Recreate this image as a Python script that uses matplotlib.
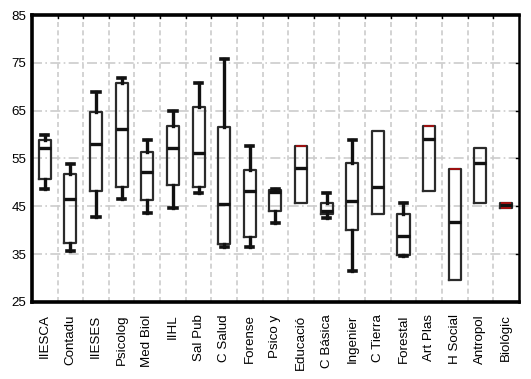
import matplotlib
matplotlib.use("Agg")
import matplotlib.pyplot as plt

plt.rcParams['font.family'] = ['Liberation Sans', 'DejaVu Sans']

# datos
carreras = ['IIESCA', 'Contadu', 'IIESES', 'Psicolog', 'Med Biol', 'IIHL', 'Sal Pub',
            'C Salud', 'Forense', 'Psico y', 'Educació', 'C Básica', 'Ingenier',
            'C Tierra', 'Forestal', 'Art Plas', 'H Social', 'Antropol', 'Biológic']
bigote_inf = [48.7, 35.7, 42.7, 46.6, 43.7, 44.6, 47.7, 36.5, 36.5, 41.6, 45.7, 42.5, 31.5,
              43.4, 34.7, 48.3, 29.6, 45.7, 44.6]
q1 = [50.7, 37.3, 48.3, 49.0, 46.3, 49.4, 49.0, 37.1, 38.6, 44.1, 45.7, 43.4, 40.0,
      43.4, 34.8, 48.3, 29.6, 45.7, 44.6]
mediana = [57.1, 46.6, 58.1, 61.1, 52.2, 57.2, 56.1, 45.4, 48.3, 48.0, 53.1, 44.1, 46.1,
           49.0, 38.8, 59.1, 41.8, 54.0, 45.2]
q3 = [58.8, 51.7, 64.8, 70.8, 56.4, 61.8, 65.8, 61.6, 52.6, 48.4, 57.7, 45.7, 54.1,
      60.8, 43.4, 61.8, 52.8, 57.1, 45.7]
bigote_sup = [59.9, 53.8, 69.0, 71.8, 58.8, 64.9, 70.8, 75.9, 57.7, 48.7, 57.7, 47.8, 58.8,
              60.8, 45.7, 61.8, 52.8, 57.1, 45.7]
# marcas rojas (carrera, valor)
rojo_idx = [10, 15, 16, 18, 18]
rojo_val = [57.7, 61.8, 52.8, 45.7, 44.6]

stats = []
for i in range(len(carreras)):
    stats.append({'whislo': bigote_inf[i], 'q1': q1[i], 'med': mediana[i],
                  'q3': q3[i], 'whishi': bigote_sup[i], 'label': carreras[i]})

fig = plt.figure(figsize=(5.31, 3.79), dpi=100)
ax = fig.add_axes([0.0603, 0.2032, 0.9167, 0.7572])

pos = list(range(1, len(carreras) + 1))
bp = ax.bxp(stats, positions=pos, widths=0.47, showfliers=False,
            boxprops=dict(color='#2b2b2b', linewidth=1.6),
            medianprops=dict(color='#111111', linewidth=2.4),
            whiskerprops=dict(color='#111111', linewidth=2.4),
            capprops=dict(color='#111111', linewidth=2.6), capwidths=0.28)

# quitar bigotes de longitud cero
for i in range(len(carreras)):
    for k in (2 * i, 2 * i + 1):
        y = bp['whiskers'][k].get_ydata()
        if abs(y[1] - y[0]) < 0.05:
            bp['whiskers'][k].set_visible(False)
            bp['caps'][k].set_visible(False)

for i, v in zip(rojo_idx, rojo_val):
    ax.hlines(v, pos[i] - 0.2, pos[i] + 0.2, color='#a01010', linewidth=1.4, zorder=5)

ax.set_xlim(0.5, len(carreras) + 0.5)
ax.set_ylim(25, 85)
ax.set_yticks([25, 35, 45, 55, 65, 75, 85])
ax.set_xticks(pos)
ax.set_xticklabels(carreras, rotation=90, fontsize=9.6)
ax.tick_params(axis='y', labelsize=9.6, length=0, pad=4)
ax.tick_params(axis='x', length=0, pad=9)

# rejilla
for y in [35, 45, 55, 65, 75]:
    ax.axhline(y, color='#cccccc', linewidth=1.2, linestyle=(0, (6, 2, 1, 2)), zorder=0)
for x in range(1, len(carreras)):
    ax.axvline(x + 0.5, color='#cccccc', linewidth=1.2, linestyle=(0, (3, 2)), zorder=0)
    ax.plot([x + 0.5, x + 0.5], [85, 84.4], color='black', linewidth=1, zorder=6)
for y in [35, 45, 55, 65, 75]:
    ax.plot([len(carreras) + 0.5, len(carreras) + 0.38], [y, y], color='black', linewidth=1, zorder=6)

for s in ['left', 'bottom', 'top']:
    ax.spines[s].set_linewidth(2.6)
ax.spines['right'].set_linewidth(1.8)

fig.savefig('out.png', dpi=100)
